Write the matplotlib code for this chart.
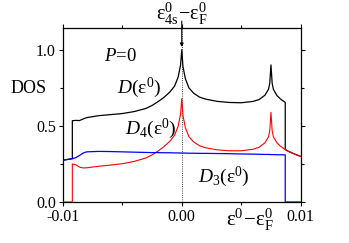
import numpy as np
import matplotlib
matplotlib.use('Agg')
from matplotlib import pyplot as plt

plt.rcParams['font.family'] = 'Liberation Serif'
plt.rcParams['mathtext.fontset'] = 'custom'
plt.rcParams['mathtext.rm'] = 'Liberation Serif'
plt.rcParams['mathtext.it'] = 'Liberation Serif:italic'

# energy grid (eps0 - epsF), steps are given as repeated x
energy = [-0.0100, -0.0092, -0.0092, -0.0089, -0.0086, -0.0083, -0.0080, -0.0070,
          -0.0060, -0.0050, -0.0040, -0.0030, -0.0025, -0.0020, -0.0015, -0.0010,
          -0.0006, -0.0003, -0.0001, 0.0000, 0.0001, 0.0003, 0.0006, 0.0010,
          0.0015, 0.0020, 0.0030, 0.0040, 0.0050, 0.0060, 0.0065, 0.0070,
          0.0073, 0.0074, 0.0075, 0.0076, 0.0077, 0.0080, 0.0083, 0.0087,
          0.0087, 0.0090, 0.0095, 0.0100]

dos4 = [0.0, 0.0, 0.25, 0.245, 0.23, 0.224, 0.225, 0.235,
        0.243, 0.252, 0.267, 0.290, 0.310, 0.335, 0.364, 0.40,
        0.44, 0.50, 0.58, 0.68, 0.57, 0.49, 0.43, 0.395,
        0.37, 0.357, 0.343, 0.337, 0.337, 0.347, 0.36, 0.39,
        0.43, 0.47, 0.59, 0.47, 0.43, 0.39, 0.367, 0.345,
        0.345, 0.332, 0.315, 0.30]

dos3 = [0.275, 0.285, 0.285, 0.292, 0.306, 0.322, 0.330, 0.333,
        0.332, 0.330, 0.328, 0.326, 0.325, 0.325, 0.324, 0.324,
        0.323, 0.323, 0.322, 0.322, 0.322, 0.322, 0.321, 0.321,
        0.320, 0.320, 0.319, 0.318, 0.316, 0.315, 0.314, 0.313,
        0.313, 0.313, 0.312, 0.312, 0.312, 0.311, 0.311, 0.310,
        0.0, 0.0, 0.0, 0.0]

energy = np.array(energy)
dos4 = np.array(dos4)
dos3 = np.array(dos3)
dos = dos3 + dos4  # total D = D3 + D4

fig = plt.figure(figsize=(3.49, 2.43), dpi=100)
ax = fig.add_axes([0.18, 0.1687, 0.6816, 0.7161])

ax.plot(energy, dos, color='black', lw=0.9, zorder=2)
ax.plot(energy, dos4, color='red', lw=0.8, zorder=3)
ax.plot(energy, dos3, color='blue', lw=0.9, zorder=4)
ax.axvline(0, color='black', lw=0.6, ls=':', zorder=1)

ax.set_xlim(-0.01, 0.01)
ax.set_ylim(0, 1.145)
ax.set_xticks([-0.01, 0.0, 0.01])
ax.set_xticklabels(['-0.01', '0.00', '0.01'])
ax.set_xticks([-0.005, 0.005], minor=True)
ax.set_yticks([0.0, 0.5, 1.0])
ax.set_yticklabels(['0.0', '0.5', '1.0'])
ax.set_yticks([0.25, 0.75], minor=True)
ax.tick_params(which='both', labelsize=11.5, length=3, width=0.8, pad=2)
ax.tick_params(which='minor', length=2.5)
ax.tick_params(axis='y', which='both', direction='out', right=True)
ax.tick_params(axis='x', which='both', direction='out', top=True)
for sp in ax.spines.values():
    sp.set_linewidth(0.9)

ax.set_ylabel('DOS', fontsize=13, rotation=0, ha='center', va='center')
ax.yaxis.set_label_coords(-0.144, 0.65)

ax.text(-0.00653, 0.93, r'$P$=0', fontsize=13.5)
ax.text(-0.00544, 0.72, r'$D(\mathrm{\varepsilon}^0)$', fontsize=14)
ax.text(-0.00476, 0.45, r'$D_4(\mathrm{\varepsilon}^0)$', fontsize=14)
ax.text(0.00138, 0.13, r'$D_3(\mathrm{\varepsilon}^0)$', fontsize=14)
ax.text(0.0057, -0.03, r'$\mathrm{\varepsilon^0\!-\!\varepsilon^0_F}$', fontsize=15,
        ha='center', va='top')

ax.annotate('', xy=(0, 1.02), xytext=(0, 1.19), xycoords='data',
            arrowprops=dict(arrowstyle='-|>', color='black', lw=0.8,
                            mutation_scale=5, shrinkA=0, shrinkB=0),
            annotation_clip=False)
fig.text(0.522, 0.999, r'$\mathrm{\varepsilon^0_{4s}\!-\!\varepsilon^0_F}$', fontsize=14.5,
         ha='center', va='top')

fig.savefig('out.png', dpi=100)
